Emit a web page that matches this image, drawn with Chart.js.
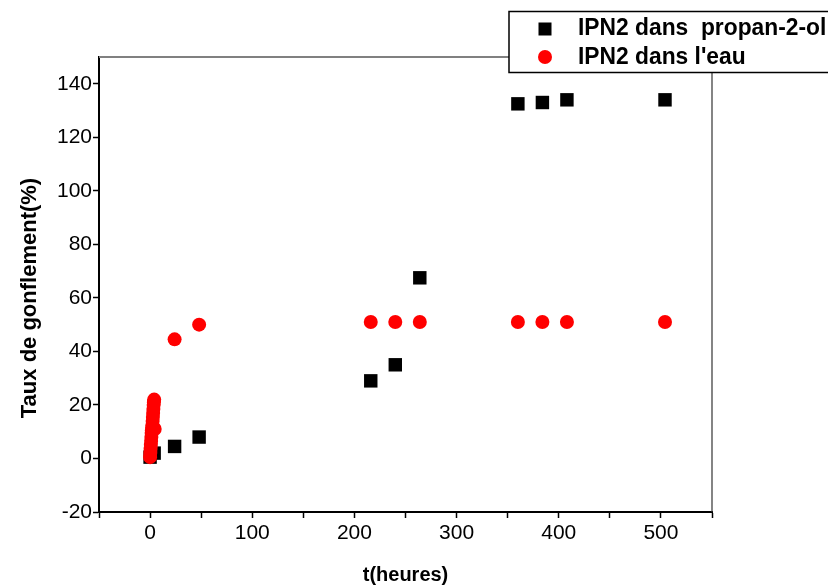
<!DOCTYPE html>
<html>
<head>
<meta charset="utf-8">
<script src="https://cdn.jsdelivr.net/npm/chart.js@4"></script>
<style>
  body { margin: 0; background: #fff; }
  #wrap { width: 828px; height: 587px; }
</style>
</head>
<body>
<div id="wrap"><canvas id="canvas1"></canvas></div>
<script>
// t (hours) and swelling rate (%)
const propanolTime = [0, 4, 24, 48, 216, 240, 264, 360, 384, 408, 504];
const propanolRate = [0.5, 2, 4.5, 8, 29, 35, 67.5, 132.5, 133, 134, 134];

const waterTime = [0, 0.25, 0.5, 0.75, 1, 1.25, 1.5, 1.75, 2, 2.25, 2.5, 2.75, 3, 3.25, 3.5, 3.75, 4, 4.5,
  24, 48, 216, 240, 264, 360, 384, 408, 504];
const waterRate = [0.5, 2, 3.5, 5, 6.5, 8, 9.5, 10.5, 11.5, 12.5, 14, 15.5, 17, 18.5, 20, 21, 22, 11,
  44.5, 50, 51, 51, 51, 51, 51, 51, 51];

const seriesNames = ["IPN2 dans  propan-2-ol", "IPN2 dans l'eau"];
const xTitle = "t(heures)";
const yTitle = "Taux de gonflement(%)";

const FONT = "'Liberation Sans', Arial, sans-serif";

function toPoints(xs, ys) {
  return xs.map((x, i) => ({ x: x, y: ys[i] }));
}

// frame (top / right), y title and legend box
const extras = {
  id: "extras",
  afterDatasetsDraw(chart) {
    const ctx = chart.ctx;
    const a = chart.chartArea;
    ctx.save();
    ctx.strokeStyle = "#808080";
    ctx.lineWidth = 2;
    ctx.beginPath();
    ctx.moveTo(a.left, a.top);
    ctx.lineTo(a.right, a.top);
    ctx.stroke();
    ctx.strokeStyle = "#333";
    ctx.lineWidth = 1.2;
    ctx.beginPath();
    ctx.moveTo(a.right, a.top);
    ctx.lineTo(a.right, a.bottom);
    ctx.stroke();

    // y axis title, sits a bit below the middle in the original
    ctx.save();
    ctx.translate(30, 298);
    ctx.rotate(-Math.PI / 2);
    ctx.fillStyle = "#000";
    ctx.font = "bold 22px " + FONT;
    ctx.textAlign = "center";
    ctx.textBaseline = "middle";
    ctx.fillText(yTitle, 0, 0);
    ctx.restore();

    // legend
    const bx = 509, by = 11.5, bw = 330, bh = 61;
    ctx.fillStyle = "#fff";
    ctx.fillRect(bx, by, bw, bh);
    ctx.strokeStyle = "#000";
    ctx.lineWidth = 1.5;
    ctx.strokeRect(bx, by, bw, bh);
    ctx.fillStyle = "#000";
    ctx.fillRect(545 - 6.5, 29 - 6.5, 13, 13);
    ctx.fillStyle = "#ff0000";
    ctx.beginPath();
    ctx.arc(545, 57, 7, 0, Math.PI * 2);
    ctx.fill();
    ctx.fillStyle = "#000";
    ctx.font = "bold 24px " + FONT;
    ctx.textBaseline = "middle";
    ctx.textAlign = "left";
    // the original type is slightly condensed
    ctx.save();
    ctx.translate(578, 0);
    ctx.scale(0.95, 1);
    ctx.fillText(seriesNames[0], 0, 28);
    ctx.fillText(seriesNames[1], 0, 57);
    ctx.restore();
    ctx.restore();
  }
};

window.onload = function () {
  let ctx1 = document.getElementById("canvas1").getContext("2d");
  new Chart(ctx1, {
    type: "scatter",
    data: {
      datasets: [
        {
          label: seriesNames[1],
          data: toPoints(waterTime, waterRate),
          pointStyle: "circle",
          pointRadius: 7,
          pointBorderWidth: 0,
          backgroundColor: "#ff0000",
          borderColor: "#ff0000",
          order: 0,
        },
        {
          label: seriesNames[0],
          data: toPoints(propanolTime, propanolRate),
          pointStyle: "rect",
          pointRadius: 9.5,
          pointBorderWidth: 0,
          backgroundColor: "#000",
          borderColor: "#000",
          order: 1,
        },
      ],
    },
    options: {
      responsive: true,
      maintainAspectRatio: false,
      animation: false,
      layout: { padding: { top: 57, right: 116, left: 0, bottom: 0 } },
      plugins: {
        legend: { display: false },
        tooltip: { enabled: false },
      },
      scales: {
        x: {
          type: "linear",
          min: -50,
          max: 550,
          afterFit: (s) => { s.height = 75; },
          ticks: {
            stepSize: 50,
            padding: 3,
            color: "#000",
            font: { family: FONT, size: 21 },
            callback: (v) => (v % 100 === 0 ? v : ""),
          },
          grid: { drawOnChartArea: false, tickLength: 6, color: "#000", tickWidth: 1.5 },
          border: { color: "#000", width: 2 },
          title: {
            display: true,
            text: xTitle,
            color: "#000",
            font: { family: FONT, size: 20, weight: "bold", lineHeight: 1 },
            padding: { top: 0, bottom: 2 },
          },
        },
        y: {
          type: "linear",
          min: -20,
          max: 150,
          afterFit: (s) => { s.width = 99; },
          ticks: {
            stepSize: 10,
            padding: 1,
            color: "#000",
            font: { family: FONT, size: 21 },
            callback: (v) => (v % 20 === 0 ? v : ""),
          },
          grid: { drawOnChartArea: false, tickLength: 6, color: "#000", tickWidth: 1.5 },
          border: { color: "#000", width: 2 },
        },
      },
    },
    plugins: [extras],
  });
};
</script>
</body>
</html>
